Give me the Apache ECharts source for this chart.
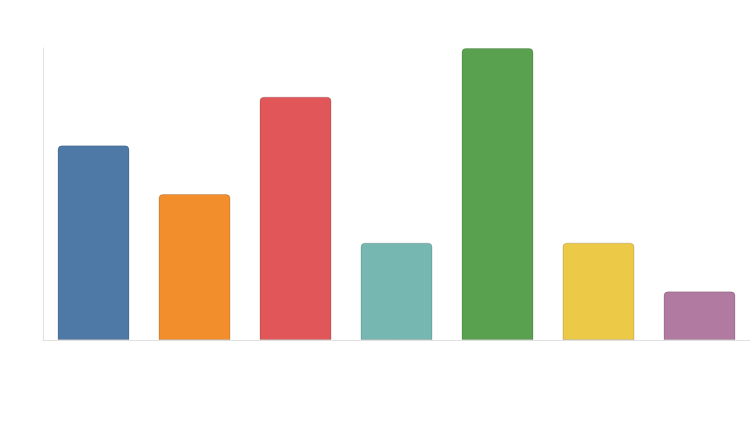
<!DOCTYPE html>
<html><head><meta charset="utf-8">
<script src="https://cdn.jsdelivr.net/npm/echarts@6/dist/echarts.min.js"></script>
<style>html,body{margin:0;padding:0;background:#fff}#c{width:750px;height:425px}</style>
</head><body><div id="c"></div>
<script>
var categories = ['A','B','C','D','E','F','G'];
var values = [4, 3, 5, 2, 6, 2, 1];
var colors = ['#4e79a7','#f28e2b','#e15759','#76b7b2','#59a14f','#edc948','#b07aa1'];
var chart = echarts.init(document.getElementById('c'), null, {renderer:'canvas'});
chart.setOption({
  animation:false,
  backgroundColor:'#fff',
  grid:{left:43,right:0,top:48,bottom:85,containLabel:false},
  xAxis:{type:'category',data:categories,axisLine:{show:true,lineStyle:{color:'#e0e0e0',width:1}},axisTick:{show:false},axisLabel:{show:false},splitLine:{show:false}},
  yAxis:{type:'value',min:0,max:6,axisLine:{show:true,lineStyle:{color:'#e0e0e0',width:1}},axisTick:{show:false},axisLabel:{show:false},splitLine:{show:false}},
  series:[{type:'bar',barWidth:72,
    data:values.map(function(v,i){return {value:v,itemStyle:{color:colors[i],borderColor:'rgba(0,0,0,0.15)',borderWidth:1,borderRadius:[4,4,0,0]}};})
  }]
});
</script></body></html>
